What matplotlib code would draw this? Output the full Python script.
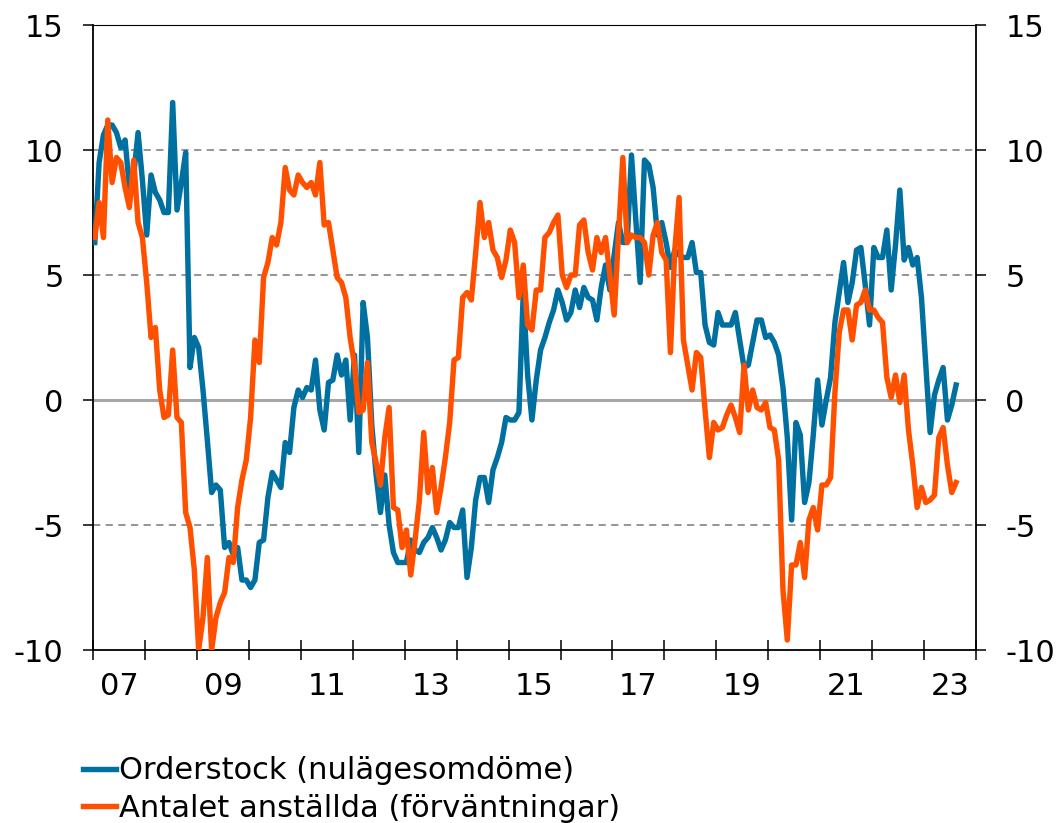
import numpy as np
import pandas as pd
import matplotlib
matplotlib.use("Agg")
import matplotlib.pyplot as plt

# monthly values, Jan 2007 - Aug 2023
orderstock = [
    6.3, 9.5, 10.6, 11.0, 11.0, 10.7, 10.1, 10.4, 8.5, 9.0, 10.7, 8.8,
    6.6, 9.0, 8.3, 8.0, 7.5, 7.5, 11.9, 7.6, 8.7, 9.9, 1.3, 2.5,
    2.1, 0.4, -1.6, -3.7, -3.4, -3.6, -5.9, -5.7, -6.2, -5.9, -7.2, -7.2,
    -7.5, -7.2, -5.7, -5.6, -3.9, -2.9, -3.2, -3.5, -1.7, -2.1, -0.3, 0.4,
    0.1, 0.5, 0.4, 1.6, -0.4, -1.2, 0.7, 0.8, 1.8, 1.0, 1.6, -0.8,
    1.8, -2.1, 3.9, 2.5, -1.0, -3.0, -4.5, -3.0, -5.0, -6.1, -6.5, -6.5,
    -6.5, -5.6, -6.0, -6.1, -5.7, -5.5, -5.1, -5.5, -6.0, -5.6, -4.9, -5.1,
    -5.1, -4.4, -7.1, -5.9, -4.0, -3.1, -3.1, -4.1, -2.8, -2.3, -1.7, -0.7,
    -0.8, -0.8, -0.5, 4.3, 1.0, -0.8, 0.8, 2.0, 2.5, 3.1, 3.6, 4.4,
    3.9, 3.2, 3.5, 4.4, 3.7, 4.5, 4.1, 4.0, 3.2, 4.5, 5.4, 4.4,
    5.8, 7.1, 6.3, 6.3, 9.8, 7.2, 4.7, 9.6, 9.4, 8.5, 6.6, 7.1,
    6.3, 5.3, 6.0, 5.8, 5.7, 5.7, 6.3, 5.1, 5.1, 3.0, 2.3, 2.2,
    3.5, 3.0, 3.0, 3.0, 3.5, 2.4, 1.3, 1.4, 2.3, 3.2, 3.2, 2.5,
    2.6, 2.3, 1.8, 0.5, -1.5, -4.8, -0.9, -1.4, -4.1, -3.3, -1.4, 0.8,
    -1.0, 0.0, 0.9, 3.1, 4.3, 5.5, 3.9, 4.7, 6.0, 6.1, 4.6, 3.0,
    6.1, 5.7, 5.7, 6.8, 4.4, 6.2, 8.4, 5.6, 6.1, 5.4, 5.7, 4.1,
    1.4, -1.3, 0.2, 0.8, 1.3, -0.8, -0.2, 0.6,
]
anstallda = [
    6.5, 7.9, 6.5, 11.2, 8.7, 9.7, 9.5, 8.5, 7.7, 9.6, 7.1, 6.5,
    4.7, 2.5, 2.9, 0.4, -0.7, -0.6, 2.0, -0.7, -0.9, -4.5, -5.1, -6.8,
    -10.0, -8.7, -6.3, -10.0, -8.7, -8.1, -7.7, -6.3, -6.5, -4.3, -3.2, -2.4,
    -0.7, 2.4, 1.5, 4.9, 5.5, 6.5, 6.2, 7.1, 9.3, 8.4, 8.2, 9.0,
    8.7, 8.5, 8.7, 8.2, 9.5, 7.0, 7.1, 6.0, 4.9, 4.7, 4.1, 2.5,
    1.4, -0.5, -0.4, 1.5, -1.7, -2.5, -3.4, -1.5, -0.3, -4.3, -4.4, -5.9,
    -5.2, -7.0, -5.6, -4.0, -1.3, -3.7, -2.7, -4.5, -3.5, -2.3, -0.9, 1.6,
    1.7, 4.1, 4.3, 4.0, 5.9, 7.9, 6.5, 7.1, 6.0, 5.7, 4.9, 5.6,
    6.8, 6.3, 4.1, 5.4, 3.0, 2.8, 4.4, 4.4, 6.5, 6.7, 7.1, 7.4,
    5.0, 4.5, 5.0, 5.0, 7.0, 7.2, 5.9, 5.2, 6.5, 5.9, 6.5, 5.0,
    3.4, 6.6, 9.7, 6.3, 6.6, 6.5, 6.5, 6.3, 5.0, 6.6, 7.1, 5.9,
    5.6, 1.9, 6.0, 8.1, 2.4, 1.4, 0.4, 1.9, 1.7, -0.4, -2.3, -0.9,
    -1.2, -1.1, -0.6, -0.2, -0.7, -1.3, 1.4, -0.4, 0.4, -0.3, -0.4, -0.1,
    -1.1, -1.2, -2.4, -7.6, -9.6, -6.6, -6.6, -5.7, -7.1, -4.8, -4.3, -5.2,
    -3.4, -3.4, -3.1, 0.3, 2.7, 3.6, 3.6, 2.4, 3.8, 3.9, 4.4, 3.6,
    3.6, 3.3, 3.1, 0.9, 0.1, 1.0, -0.1, 1.0, -1.2, -2.6, -4.3, -3.5,
    -4.1, -4.0, -3.8, -1.5, -1.1, -2.6, -3.7, -3.3,
]
labels = ["Orderstock (nulägesomdöme)", "Antalet anställda (förväntningar)"]
year_labels = ["07", "09", "11", "13", "15", "17", "19", "21", "23"]

dates = pd.date_range("2007-01-01", periods=len(orderstock), freq="MS")
x = dates.year + (dates.month - 0.6) / 12.0

blue = "#0070A0"
orange = "#FF5000"
fs = 22

fig = plt.figure(figsize=(10.61, 8.23), dpi=100)
ax = fig.add_axes([0.0877, 0.2102, 0.8322, 0.7594])

for y in [15, 10, 5, -5]:
    ax.axhline(y, color="#8c8c8c", lw=1.3, ls=(0, (4, 3)), zorder=1)
ax.axhline(0, color="#a6a6a6", lw=2.2, zorder=1)

ax.plot(x, orderstock, color=blue, lw=3.9, label=labels[0], zorder=3,
        solid_joinstyle="round")
ax.plot(x, anstallda, color=orange, lw=3.9, label=labels[1], zorder=4,
        solid_joinstyle="round")

ax.set_xlim(2007, 2024)
ax.set_ylim(-10, 15)
ax.set_yticks([-10, -5, 0, 5, 10, 15])
ax.set_yticklabels(["-10", "-5", "0", "5", "10", "15"])
ax.tick_params(axis="y", which="both", direction="out", length=7.2, width=1.1,
               labelsize=fs, left=True, right=True, labelleft=True,
               labelright=True, pad=14)

ax.set_xticks(np.arange(2007, 2025))
ax.set_xticklabels([])
ax.set_xticks(np.arange(2007.5, 2024, 2), minor=True)
ax.set_xticklabels(year_labels, minor=True)
ax.tick_params(axis="x", which="major", direction="inout", length=14, width=1.1)
ax.tick_params(axis="x", which="minor", length=0, labelsize=fs, pad=16)

for s in ["left", "right", "bottom"]:
    ax.spines[s].set_linewidth(1.3)
    ax.spines[s].set_color("black")
ax.spines["top"].set_linewidth(0.8)

handles, labs = ax.get_legend_handles_labels()
fig.legend(handles, labs, loc="upper left", bbox_to_anchor=(0.078, 0.081),
           frameon=False, fontsize=fs, handlelength=1.1, handletextpad=0.08,
           labelspacing=0.28, borderaxespad=0, borderpad=0)

fig.savefig("out.png", dpi=100)
